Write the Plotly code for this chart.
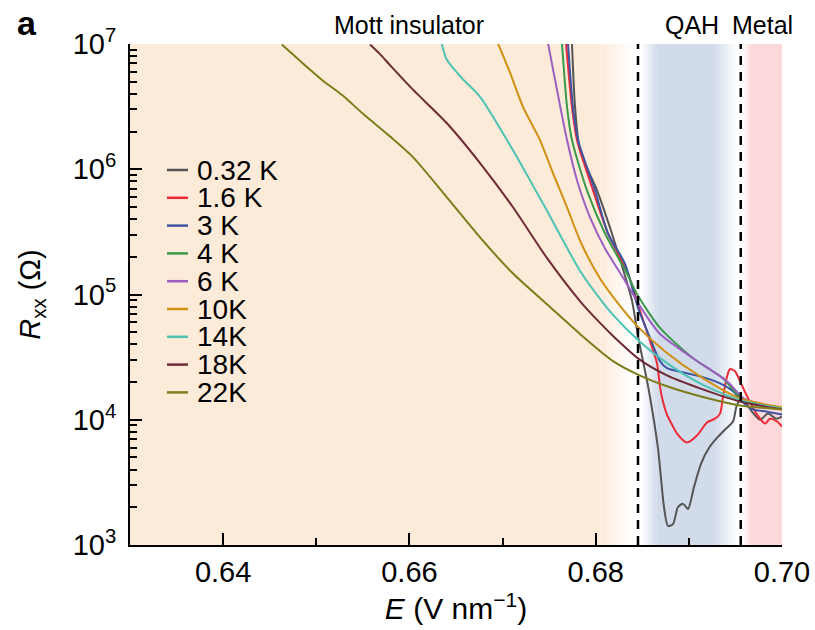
import plotly.graph_objects as go

# ---- measured R_xx(E) curves at each temperature ----
E_032 = [0.67745, 0.67778, 0.67831, 0.68014, 0.68153, 0.68314, 0.68390, 0.68454, 0.68572, 0.68669,
         0.68733, 0.68776, 0.68830, 0.68883, 0.68937, 0.68991, 0.69056, 0.69131, 0.69217, 0.69314,
         0.69399, 0.69474, 0.69517, 0.69571, 0.69678, 0.69764, 0.69850, 0.69936, 0.70000]
R_032 = [1.01e7, 3.15e6, 1.42e6, 6.79e5, 3.43e5, 1.41e5, 8.89e4, 4.66e4, 1.69e4, 5.87e3,
         2.01e3, 1.42e3, 1.47e3, 2.01e3, 2.13e3, 1.94e3, 2.92e3, 4.46e3, 5.98e3, 7.33e3,
         8.51e3, 9.68e3, 1.32e4, 1.48e4, 1.16e4, 1.00e4, 1.12e4, 1.02e4, 1.06e4]

E_16 = [0.67681, 0.67745, 0.67799, 0.67971, 0.68132, 0.68347, 0.68476, 0.68583, 0.68658, 0.68690,
        0.68722, 0.68765, 0.68819, 0.68873, 0.68980, 0.69088, 0.69195, 0.69281, 0.69335, 0.69367,
        0.69410, 0.69442, 0.69496, 0.69549, 0.69625, 0.69732, 0.69818, 0.69871, 0.69946, 0.70000]
R_16 = [1.01e7, 3.15e6, 1.71e6, 6.79e5, 3.07e5, 1.47e5, 7.40e4, 4.26e4, 2.82e4, 1.85e4,
        1.40e4, 1.10e4, 9.16e3, 7.76e3, 6.58e3, 7.48e3, 9.51e3, 1.02e4, 1.12e4, 1.54e4,
        2.22e4, 2.54e4, 2.44e4, 2.03e4, 1.54e4, 1.10e4, 9.33e3, 1.02e4, 9.68e3, 8.83e3]

E_3 = [0.67702, 0.67756, 0.67810, 0.67992, 0.68132, 0.68314, 0.68454, 0.68583, 0.68690, 0.68765,
       0.68980, 0.69195, 0.69335, 0.69474, 0.69571, 0.69689, 0.69839, 0.70000]
R_3 = [1.01e7, 3.15e6, 1.71e6, 6.79e5, 3.07e5, 1.76e5, 7.82e4, 4.50e4, 2.94e4, 2.58e4,
       2.35e4, 2.14e4, 1.95e4, 1.69e4, 1.40e4, 1.21e4, 1.16e4, 1.10e4]

E_4 = [0.67638, 0.67692, 0.67745, 0.67906, 0.68100, 0.68336, 0.68443, 0.68690, 0.69045, 0.69367,
       0.69571, 0.70000]
R_4 = [1.01e7, 3.15e6, 1.71e6, 6.79e5, 3.07e5, 1.47e5, 1.01e5, 5.41e4, 3.10e4, 2.14e4,
       1.48e4, 1.21e4]

E_6 = [0.67488, 0.67584, 0.67692, 0.67799, 0.67939, 0.68100, 0.68314, 0.68508, 0.68690, 0.69045,
       0.69410, 0.69603, 0.70000]
R_6 = [1.01e7, 4.32e6, 1.71e6, 8.18e5, 4.13e5, 2.33e5, 1.29e5, 7.40e4, 4.84e4, 3.10e4,
       2.03e4, 1.46e4, 1.23e4]

E_10 = [0.66951, 0.67080, 0.67219, 0.67402, 0.67541, 0.67692, 0.67831, 0.68046, 0.68261, 0.68454,
        0.68765, 0.69120, 0.69549, 0.70000]
R_10 = [1.01e7, 5.90e6, 3.15e6, 1.71e6, 9.31e5, 4.97e5, 2.70e5, 1.34e5, 8.11e4, 5.51e4,
        3.41e4, 2.22e4, 1.48e4, 1.26e4]

E_14 = [0.66346, 0.66400, 0.66578, 0.66758, 0.67112, 0.67474, 0.67831, 0.68046, 0.68186, 0.68465,
        0.68765, 0.69120, 0.69549, 0.70000]
R_14 = [1.01e7, 7.52e6, 5.20e6, 3.79e6, 1.42e6, 4.70e5, 1.55e5, 9.23e4, 6.87e4, 4.26e4,
        2.83e4, 1.95e4, 1.43e4, 1.23e4]

E_18 = [0.65577, 0.65684, 0.65791, 0.66038, 0.66400, 0.66758, 0.67112, 0.67474, 0.67831, 0.68046,
        0.68186, 0.68465, 0.68765, 0.69120, 0.69549, 0.70000]
R_18 = [9.91e6, 8.30e6, 6.78e6, 4.32e6, 2.34e6, 1.12e6, 4.97e5, 1.97e5, 8.87e4, 5.93e4,
        4.67e4, 3.05e4, 2.26e4, 1.78e4, 1.40e4, 1.21e4]

E_22 = [0.64629, 0.64750, 0.64933, 0.65072, 0.65287, 0.65502, 0.65791, 0.66038, 0.66400, 0.66758,
        0.67112, 0.67474, 0.67831, 0.68186, 0.68465, 0.68765, 0.69120, 0.69549, 0.70000]
R_22 = [9.91e6, 8.24e6, 6.24e6, 5.09e6, 3.86e6, 2.77e6, 1.83e6, 1.25e6, 6.00e5, 2.86e5,
        1.47e5, 8.41e4, 4.84e4, 2.94e4, 2.27e4, 1.85e4, 1.54e4, 1.30e4, 1.21e4]

TEMPS = ["0.32 K", "1.6 K", "3 K", "4 K", "6 K", "10K", "14K", "18K", "22K"]
E_SETS = [E_032, E_16, E_3, E_4, E_6, E_10, E_14, E_18, E_22]
R_SETS = [R_032, R_16, R_3, R_4, R_6, R_10, R_14, R_18, R_22]
COLORS = ["#555555", "#EE2A37", "#3E55A5", "#3A9A4A", "#9B5FC0",
          "#D09012", "#4DC3B3", "#6E2A36", "#7D7D1C"]

# phase boundaries (dashed lines) and axis ticks
E_BOUNDS = [0.68454, 0.69557]
X_MAJOR = [0.64, 0.66, 0.68, 0.70]
X_MINOR = [0.65, 0.67, 0.69]
Y_MAJOR = [1e3, 1e4, 1e5, 1e6, 1e7]
Y_LABELS = ["10<sup>3</sup>", "10<sup>4</sup>", "10<sup>5</sup>", "10<sup>6</sup>", "10<sup>7</sup>"]

FONT = "Liberation Sans, Arial, Helvetica, sans-serif"

fig = go.Figure()

# ---- shaded phase regions with soft edges ----
def mix(rgb, t):
    """Blend rgb toward white; t=1 is full colour, t=0 is white."""
    r, g, b = (round(255 + (c - 255) * t) for c in rgb)
    return f"rgb({r},{g},{b})"

def band(x0, x1, rgb, t0, t1, n):
    step = (x1 - x0) / n
    for k in range(n):
        t = t0 + (t1 - t0) * (k + 0.5) / n
        fig.add_shape(type="rect", xref="x", yref="paper",
                      x0=x0 + k * step, x1=x0 + (k + 1) * step + 1e-6, y0=0, y1=1,
                      fillcolor=mix(rgb, t), line_width=0, layer="below")

PEACH = (253, 235, 217)
BLUE = (209, 219, 234)
PINK = (253, 216, 218)

band(0.63, 0.6805, PEACH, 1, 1, 1)
band(0.6805, 0.6840, PEACH, 1, 0, 14)
band(0.6849, 0.6865, BLUE, 0, 1, 10)
band(0.6865, 0.6928, BLUE, 1, 1, 1)
band(0.6928, 0.6953, BLUE, 1, 0, 12)
band(0.6958, 0.6966, PINK, 0, 1, 4)
band(0.6966, 0.7000, PINK, 1, 1, 1)

# ---- curves ----
for name, e, r, c in zip(TEMPS, E_SETS, R_SETS, COLORS):
    fig.add_trace(go.Scatter(x=e, y=r, mode="lines", name=name,
                             line=dict(color=c, width=2, shape="spline", smoothing=0.7),
                             showlegend=False))

# ---- dashed phase boundaries ----
for xb in E_BOUNDS:
    fig.add_shape(type="line", xref="x", yref="paper", x0=xb, x1=xb, y0=0, y1=1,
                  line=dict(color="black", width=2.5, dash="9px,7px"), layer="above")

# ---- legend drawn as short line samples with labels ----
L, R_, T, B = 130, 782, 44, 545
W, H = R_ - L, B - T
for i, (name, c) in enumerate(zip(TEMPS, COLORS)):
    py = 170 + 27.8 * i
    yp = (B - py) / H
    fig.add_shape(type="line", xref="paper", yref="paper",
                  x0=(167 - L) / W, x1=(188 - L) / W, y0=yp, y1=yp,
                  line=dict(color=c, width=2.5))
    fig.add_annotation(xref="paper", yref="paper", x=(195 - L) / W, y=yp,
                       text=name, showarrow=False, xanchor="left", yanchor="middle",
                       font=dict(family=FONT, size=28, color="black"))

# ---- region labels and panel letter ----
for txt, xpx in [("Mott insulator", 409), ("QAH", 692), ("Metal", 762)]:
    fig.add_annotation(xref="paper", yref="paper", x=(xpx - L) / W, y=(B - 25) / H,
                       text=txt, showarrow=False, xanchor="center", yanchor="middle",
                       font=dict(family=FONT, size=25, color="black"))
fig.add_annotation(xref="paper", yref="paper", x=(27 - L) / W, y=(B - 23) / H,
                   text="<b>a</b>", showarrow=False, xanchor="center", yanchor="middle",
                   font=dict(family=FONT, size=34, color="black"))

fig.update_layout(
    width=815, height=630,
    margin=dict(l=L, r=815 - R_, t=T, b=630 - B),
    paper_bgcolor="white", plot_bgcolor="white",
    font=dict(family=FONT, size=29, color="black"),
    xaxis=dict(range=[0.63, 0.70], showgrid=False, zeroline=False, automargin=False,
               showline=True, linecolor="black", linewidth=2,
               ticks="inside", ticklen=12, tickwidth=2, tickcolor="black",
               tickvals=X_MAJOR, ticktext=[f"{v:.2f}" for v in X_MAJOR],
               tickfont=dict(family=FONT, size=29, color="black"),
               minor=dict(tickvals=X_MINOR, ticks="inside", ticklen=7,
                          tickwidth=1.5, tickcolor="black"),
               title=dict(text="<i>E</i> (V nm<sup>−1</sup>)",
                          font=dict(family=FONT, size=30, color="black"), standoff=10)),
    yaxis=dict(type="log", range=[3, 7], showgrid=False, zeroline=False, automargin=False,
               showline=True, linecolor="black", linewidth=2,
               ticks="inside", ticklen=12, tickwidth=2, tickcolor="black",
               tickvals=Y_MAJOR, ticktext=Y_LABELS,
               tickfont=dict(family=FONT, size=29, color="black"),
               ticklabelstandoff=6,
               minor=dict(tickvals=[m * 10 ** d for d in range(3, 7) for m in range(2, 10)],
                          ticks="inside", ticklen=7, tickwidth=1.5, tickcolor="black"),
               title=dict(text="<i>R</i><sub>xx</sub> (Ω)",
                          font=dict(family=FONT, size=29, color="black"), standoff=24)),
)

fig.write_html("out.html")
